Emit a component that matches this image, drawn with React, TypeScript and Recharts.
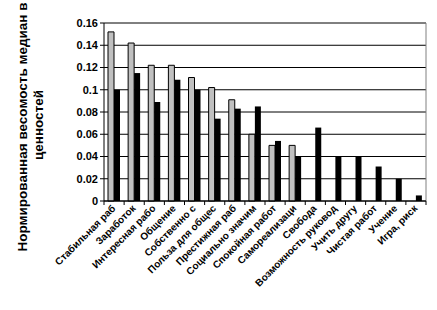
import React from "react";
import {
  BarChart, Bar, XAxis, YAxis, CartesianGrid, ReferenceLine,
} from "recharts";

const categories = [
  "Стабильная раб", "Заработок", "Интересная рабо", "Общение", "Собственно с",
  "Польза для общес", "Престижная раб", "Социально значим", "Спокойная работ",
  "Самореализаци", "Свобода", "Возможность руковод", "Учить другу",
  "Чистая работ", "Учение", "Игра, риск",
];
const grayValues = [0.152, 0.142, 0.122, 0.122, 0.111, 0.102, 0.091, 0.06, 0.05, 0.05, 0, 0, 0, 0, 0, 0];
const blackValues = [0.1, 0.115, 0.089, 0.109, 0.1, 0.074, 0.083, 0.085, 0.054, 0.04, 0.066, 0.04, 0.04, 0.031, 0.02, 0.005];
const yTicks = [0, 0.02, 0.04, 0.06, 0.08, 0.1, 0.12, 0.14, 0.16];

const data = categories.map((name, i) => ({ name, a: grayValues[i], b: blackValues[i] }));

const font = "'Liberation Sans', Arial, sans-serif";

// category labels, plus Excel-style tick marks on the category boundaries
function CatTick({ x, y, payload, index }: any) {
  const half = payload && payload.offset ? payload.offset : 10.06;
  const last = index === categories.length - 1;
  return (
    <g>
      <line x1={x - half} x2={x - half} y1={y - 2} y2={y + 2} stroke="#000" />
      {last && <line x1={x + half} x2={x + half} y1={y - 2} y2={y + 2} stroke="#000" />}
      <text
        x={x + 2}
        y={y + 6}
        transform={`rotate(-45, ${x + 2}, ${y + 6})`}
        textAnchor="end"
        fontFamily={font}
        fontWeight="bold"
        fontSize={10}
        fill="#000"
      >
        {payload.value}
      </text>
    </g>
  );
}

export default function App() {
  return (
    <div style={{ position: "absolute", left: 0, top: 0, width: 437, height: 310, background: "#fff" }}>
      <BarChart
        width={437}
        height={310}
        data={data}
        margin={{ left: 44, right: 11, top: 23, bottom: 0 }}
        barGap={0}
        barCategoryGap={4}
      >
        <CartesianGrid vertical={false} stroke="#000" strokeWidth={1} />
        <XAxis
          dataKey="name"
          interval={0}
          tickLine={false}
          tickSize={0}
          axisLine={{ stroke: "#000" }}
          tick={<CatTick />}
          height={109}
        />
        <YAxis
          domain={[0, 0.16]}
          ticks={yTicks}
          interval={0}
          width={60}
          tickSize={4}
          tickLine={{ stroke: "#000" }}
          axisLine={{ stroke: "#000" }}
          tick={{ fontFamily: font, fontWeight: "bold", fontSize: 11, fill: "#000" }}
          tickFormatter={(v: number) => String(v)}
        />
        <ReferenceLine y={0.16} stroke="#808080" />
        <ReferenceLine x={categories[categories.length - 1]} position="end" stroke="#808080" />
        <Bar dataKey="a" fill="#c0c0c0" stroke="#000" strokeWidth={1} barSize={6} isAnimationActive={false} />
        <Bar dataKey="b" fill="#000" barSize={6} isAnimationActive={false} />
        <text
          transform="rotate(-90)"
          textAnchor="middle"
          fontFamily={font}
          fontWeight="bold"
          fontSize={13.5}
          fill="#000"
        >
          <tspan x={-127} y={27}>Нормированная весомость медиан в</tspan>
          <tspan x={-125} y={43}>ценностей</tspan>
        </text>
      </BarChart>
    </div>
  );
}
